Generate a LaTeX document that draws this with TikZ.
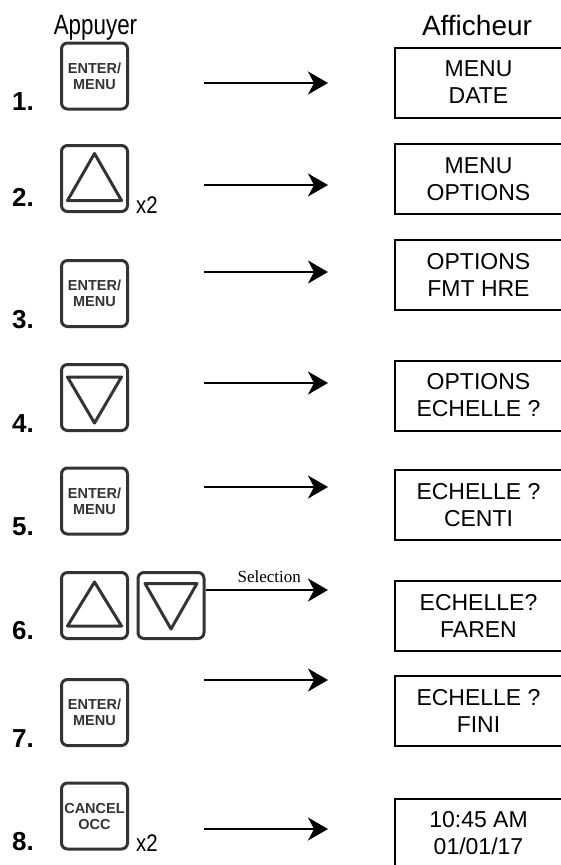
\documentclass[tikz,border=0pt]{standalone}
\usepackage{fontspec}
\setmainfont{Liberation Sans}
\newfontfamily\serifface{Liberation Serif}
\usetikzlibrary{arrows.meta}
\definecolor{keygray}{HTML}{333333}
\tikzset{
  keybox/.style={draw=keygray, line width=3pt, rounded corners=6pt, minimum width=66pt, minimum height=66pt, inner sep=0pt},
  keytext/.style={font=\fontsize{14.5}{16}\selectfont\bfseries, align=center, text=keygray},
  tri/.style={draw=keygray, line width=3pt, line join=round},
  dispbox/.style={draw=black, line width=2pt, minimum width=167pt, minimum height=70pt, inner sep=0pt, align=center, font=\fontsize{23}{27}\selectfont},
  steplabel/.style={anchor=base west, inner sep=0pt, font=\fontsize{26}{30}\selectfont\bfseries},
  times/.style={anchor=base west, inner sep=0pt, font=\fontsize{24}{28}\selectfont},
  flow/.style={line width=2pt, -{Stealth[length=20pt, width=23pt, inset=6pt]}},
  heading/.style={anchor=base, inner sep=0pt, font=\fontsize{28}{32}\selectfont}
}
\begin{document}
\begin{tikzpicture}[x=1pt, y=-1pt]
\useasboundingbox (0,0) rectangle (561,865);
% headings
\node[heading] (happ) at (95.5,34) {\scalebox{0.8}[1]{Appuyer}};
\node[heading] (haff) at (477,35) {Afficheur};
% keys
\node[keybox, keytext] (k1) at (94.5,76) {ENTER/\\MENU};
\node[keybox] (k2) at (94.5,178.5) {};
\node[keybox, keytext] (k3) at (94.5,293.5) {ENTER/\\MENU};
\node[keybox] (k4) at (94.5,397.5) {};
\node[keybox, keytext] (k5) at (94.5,501) {ENTER/\\MENU};
\node[keybox] (k6a) at (94.5,605.5) {};
\node[keybox] (k6b) at (171,605.5) {};
\node[keybox, keytext] (k7) at (94.5,712.5) {ENTER/\\MENU};
\node[keybox, keytext] (k8) at (94.5,816) {CANCEL\\OCC};
% triangles
\draw[tri] ([shift={(0,-25)}]k2.center) -- ([shift={(27,22)}]k2.center) -- ([shift={(-27,22)}]k2.center) -- cycle;
\draw[tri] ([shift={(0,-23.5)}]k6a.center) -- ([shift={(27,20.5)}]k6a.center) -- ([shift={(-27,20.5)}]k6a.center) -- cycle;
\draw[tri] ([shift={(0,25.5)}]k4.center) -- ([shift={(27,-20.5)}]k4.center) -- ([shift={(-27,-20.5)}]k4.center) -- cycle;
\draw[tri] ([shift={(0,23.5)}]k6b.center) -- ([shift={(26,-22)}]k6b.center) -- ([shift={(-26,-22)}]k6b.center) -- cycle;
% step numbers
\node[steplabel] (n1) at (12,110) {1.};
\node[steplabel] (n2) at (12,206) {2.};
\node[steplabel] (n3) at (12,328) {3.};
\node[steplabel] (n4) at (12,432) {4.};
\node[steplabel] (n5) at (12,535) {5.};
\node[steplabel] (n6) at (12,639) {6.};
\node[steplabel] (n7) at (12,747) {7.};
\node[steplabel] (n8) at (12,850) {8.};
% repeat marks
\node[times] (x2a) at (136,213) {\scalebox{0.85}[1]{x2}};
\node[times] (x2b) at (136,851) {\scalebox{0.85}[1]{x2}};
% displays
\node[dispbox] (d1) at (478.5,82.5) {MENU\\DATE};
\node[dispbox] (d2) at (478.5,179) {MENU\\OPTIONS};
\node[dispbox] (d3) at (478.5,274.5) {OPTIONS\\FMT HRE};
\node[dispbox] (d4) at (478.5,395.5) {OPTIONS\\ECHELLE ?};
\node[dispbox] (d5) at (478.5,505) {ECHELLE ?\\CENTI};
\node[dispbox] (d6) at (478.5,616) {ECHELLE?\\FAREN};
\node[dispbox] (d7) at (478.5,711) {ECHELLE ?\\FINI};
\node[dispbox] (d8) at (478.5,833.5) {10:45 AM\\01/01/17};
% arrows
\foreach \i/\y in {1/83,2/185,3/272,4/383,5/487,7/680,8/829}{
  \coordinate (s\i) at (204,\y);
  \coordinate (e\i) at (328,\y);
  \draw[flow] (s\i) -- (e\i);
}
\coordinate (s6) at (k6b.east |- 0,590);
\coordinate (e6) at (328,590);
\draw[flow] (s6) -- (e6) node[pos=0.52, above=6pt, font=\serifface\fontsize{17}{19}\selectfont, inner sep=0pt] (sel) {Selection};
\end{tikzpicture}
\end{document}
